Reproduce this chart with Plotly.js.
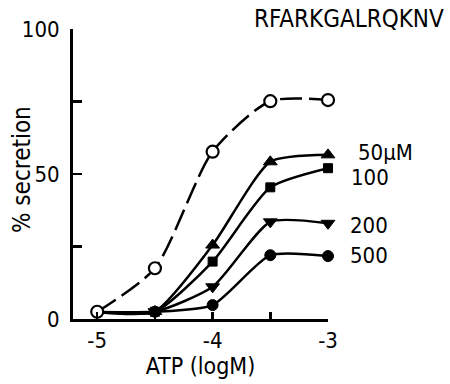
<!DOCTYPE html>
<html>
<head>
<meta charset="utf-8">
<script src="https://cdn.plot.ly/plotly-3.0.1.min.js"></script>
<style>html,body{margin:0;padding:0;background:#fff;}#chart{width:450px;height:384px;}</style>
</head>
<body>
<div id="chart"></div>
<script>
// ATP concentration (log M)
const atpLog = [-5, -4.5, -4, -3.5, -3];
// % secretion, control (open circles)
const control = [2.5, 17.5, 57.7, 75.1, 75.5];
// % secretion with RFARKGALRQKNV at given concentrations
const pep50 = [2.4, 2.6, 25.5, 54.2, 56.6];
const pep100 = [2.4, 2.5, 19.8, 45.4, 52.0];
const pep200 = [2.4, 2.5, 11.1, 33.5, 33.0];
const pep500 = [2.4, 2.5, 4.8, 22.0, 21.7];
const seriesLabels = ['50µM', '100', '200', '500'];
const yTickVals = [0, 25, 50, 75, 100];
const yTickText = ['0', '', '50', '', '100'];
const xTickVals = [-5, -4.5, -4, -3.5, -3];
const xTickText = ['-5', '', '-4', '', '-3'];

const FONT = 'DejaVu Sans Condensed, sans-serif';

function filled(y, symbol, sizes) {
  return {
    x: atpLog, y: y, type: 'scatter', mode: 'lines+markers', cliponaxis: false,
    line: {color: '#000', width: 2.5, shape: 'spline', smoothing: 0.6},
    marker: {symbol: symbol, color: '#000', size: sizes, opacity: 1, line: {color: '#000', width: 1}}
  };
}

const traces = [
  filled(pep500, 'circle', [0, 11, 11, 11, 11]),
  filled(pep200, 'triangle-down', [0, 12, 12, 12, 12]),
  filled(pep100, 'square', [0, 9, 9, 9, 9]),
  filled(pep50, 'triangle-up', [0, 12, 12, 12, 12]),
  {
    x: atpLog, y: control, type: 'scatter', mode: 'lines+markers', cliponaxis: false,
    line: {color: '#000', width: 2.5, shape: 'spline', smoothing: 0.7, dash: '22px,7px'},
    marker: {symbol: 'circle', color: '#fff', size: 12, line: {color: '#000', width: 2.2}}
  }
];

const L = 73, W = 255, T = 29, H = 290;
function px(xp) { return (xp - L) / W; }
function py(yp) { return (T + H - yp) / H; }

const labelPos = [[356, 152], [349, 177], [348, 225], [348, 255]];
const annotations = seriesLabels.map((t, i) => ({
  text: t, xref: 'paper', yref: 'paper', x: px(labelPos[i][0]), y: py(labelPos[i][1]),
  xanchor: 'left', yanchor: 'middle', showarrow: false, font: {family: FONT, size: 22, color: '#000'}
}));
annotations.push({
  text: 'RFARKGALRQKNV', xref: 'paper', yref: 'paper', x: px(349), y: py(19),
  xanchor: 'center', yanchor: 'middle', showarrow: false, font: {family: FONT, size: 24, color: '#000'}
});
annotations.push({
  text: '% secretion', xref: 'paper', yref: 'paper', x: px(22), y: py(170), textangle: -90,
  xanchor: 'center', yanchor: 'middle', showarrow: false, font: {family: FONT, size: 24, color: '#000'}
});

const layout = {
  width: 450, height: 384, margin: {l: L, r: 450 - L - W, t: T, b: 384 - T - H},
  paper_bgcolor: '#fff', plot_bgcolor: '#fff', showlegend: false,
  font: {family: FONT, size: 22, color: '#000'},
  xaxis: {
    range: [-5.21, -3], tickvals: xTickVals, ticktext: xTickText, ticks: 'inside', ticklen: 7, tickwidth: 2.5,
    tickcolor: '#000', showline: true, linecolor: '#000', linewidth: 3, showgrid: false, zeroline: false,
    tickfont: {family: FONT, size: 22}, title: {text: 'ATP (logM)', font: {family: FONT, size: 23}, standoff: 4}
  },
  yaxis: {
    range: [0, 100], tickvals: yTickVals, ticktext: yTickText, ticks: 'inside', ticklen: 9, tickwidth: 2.5,
    tickcolor: '#000', showline: true, linecolor: '#000', linewidth: 3, showgrid: false, zeroline: false,
    ticklabelstandoff: 6,
    tickfont: {family: FONT, size: 22}
  },
  annotations: annotations
};

Plotly.newPlot('chart', traces, layout, {staticPlot: true, displayModeBar: false});
</script>
</body>
</html>
